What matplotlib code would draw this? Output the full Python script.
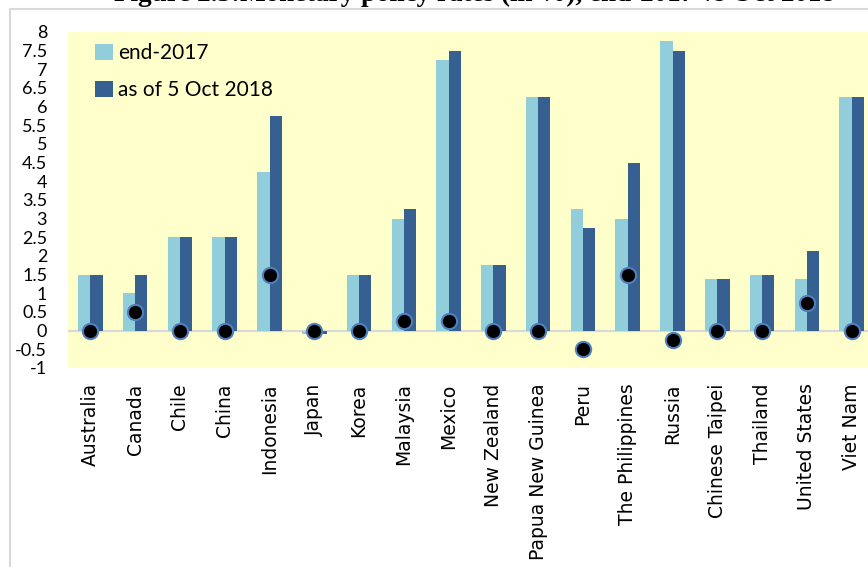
"""
Monetary policy rates chart: end-2017 vs 5 Oct 2018, with the change shown as dots.
"""

import matplotlib
matplotlib.use("Agg")
import matplotlib.pyplot as plt
import matplotlib.patches as mpatches
import numpy as np

# ---------------------------------------------------------------------------
# Data
# ---------------------------------------------------------------------------
economies = [
    "Australia", "Canada", "Chile", "China", "Indonesia", "Japan", "Korea",
    "Malaysia", "Mexico", "New Zealand", "Papua New Guinea", "Peru",
    "The Philippines", "Russia", "Chinese Taipei", "Thailand",
    "United States", "Viet Nam",
]
rate_end_2017 = [1.5, 1.0, 2.5, 2.5, 4.25, -0.1, 1.5, 3.0, 7.25, 1.75,
                 6.25, 3.25, 3.0, 7.75, 1.375, 1.5, 1.375, 6.25]
rate_oct_2018 = [1.5, 1.5, 2.5, 2.5, 5.75, -0.1, 1.5, 3.25, 7.5, 1.75,
                 6.25, 2.75, 4.5, 7.5, 1.375, 1.5, 2.125, 6.25]
change = [0.0, 0.5, 0.0, 0.0, 1.5, 0.0, 0.0, 0.25, 0.25, 0.0,
          0.0, -0.5, 1.5, -0.25, 0.0, 0.0, 0.75, 0.0]
y_ticks = [-1, -0.5, 0, 0.5, 1, 1.5, 2, 2.5, 3, 3.5, 4, 4.5, 5, 5.5, 6,
           6.5, 7, 7.5, 8]

LIGHT = "#92CDDC"
DARK = "#366092"
BG = "#FFFFCC"
GRID = "#D9D9D9"

W, H = 868, 567
fig = plt.figure(figsize=(W / 100, H / 100), dpi=100)

# plot area in pixel coords (left, top, right, bottom)
left, top, right, bottom = 68, 32, 874, 368
ax = fig.add_axes([left / W, 1 - bottom / H, (right - left) / W, (bottom - top) / H])
ax.set_facecolor(BG)

x = np.arange(len(economies))
bw = 0.275
ax.axhline(0, color=GRID, linewidth=1.6, zorder=1)
ax.bar(x - bw / 2, rate_end_2017, width=bw, color=LIGHT, label="end-2017", zorder=2)
ax.bar(x + bw / 2, rate_oct_2018, width=bw, color=DARK, label="as of 5 Oct 2018", zorder=2)
ax.plot(x, change, linestyle="none", marker="o", markersize=11,
        markerfacecolor="black", markeredgecolor="#4F81BD", markeredgewidth=1.5,
        zorder=3)

ax.set_xlim(-0.5, len(economies) - 0.5)
ax.set_ylim(-1, 8)
ax.set_yticks(y_ticks)
ax.set_yticklabels([f"{v:g}" for v in y_ticks], fontfamily="Lato", fontsize=13)
ax.set_xticks(x)
ax.set_xticklabels(economies, rotation=90, fontfamily="DejaVu Sans", fontsize=13.5)
ax.tick_params(axis="y", length=0, pad=15)
ax.tick_params(axis="x", length=0, pad=11)
for s in ax.spines.values():
    s.set_visible(False)

leg = ax.legend(loc="upper left", bbox_to_anchor=(0.023, 0.991), frameon=False,
                borderaxespad=0, prop={"family": "Lato", "size": 15},
                handlelength=0.85, handleheight=0.85, handletextpad=0.25,
                labelspacing=0.8)

# chart border (cropped at right/bottom)
fig.add_artist(mpatches.Rectangle((10 / W, -0.2), 1.2, 1.2 - 9 / H,
                                  transform=fig.transFigure, fill=False,
                                  edgecolor=GRID, linewidth=1.5))

# title, cropped at the top edge of the image
fig.text(474 / W, 1 - 0.8 / H,
         "Figure 2.3:Monetary policy rates (in %), end-2017 vs Oct 2018",
         ha="center", va="baseline", fontfamily="Liberation Serif",
         fontweight="bold", fontsize=19.5)

fig.savefig("out.png", dpi=100)
